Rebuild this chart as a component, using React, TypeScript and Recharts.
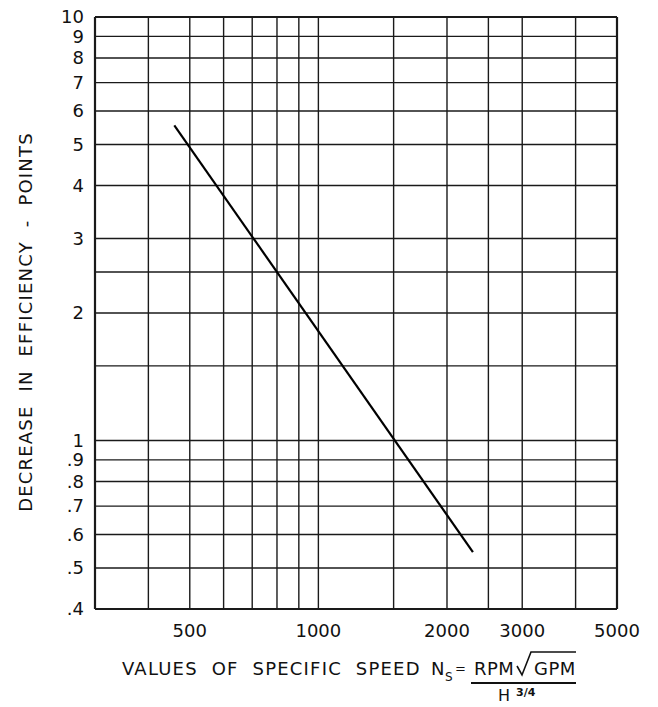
import { LineChart, Line, XAxis, YAxis, ReferenceLine } from 'recharts';

// specific speed (x) vs decrease in efficiency (y)
const specificSpeed = [460, 2300];
const efficiencyDrop = [5.55, 0.545];

const xGridValues = [300, 400, 500, 600, 700, 800, 900, 1000, 1500, 2000, 2500, 3000, 4000, 5000];
const xTickValues = [500, 1000, 2000, 3000, 5000];
const yTickValues = [0.4, 0.5, 0.6, 0.7, 0.8, 0.9, 1, 2, 3, 4, 5, 6, 7, 8, 9, 10];
const yTickLabels = ['.4', '.5', '.6', '.7', '.8', '.9', '1', '2', '3', '4', '5', '6', '7', '8', '9', '10'];
const yGridValues = [...yTickValues, 1.5, 2.5];

const data = specificSpeed.map((ns, i) => ({ ns, drop: efficiencyDrop[i] }));

const FONT = '"DejaVu Sans", sans-serif';
const tickStyle = { fill: '#111', fontFamily: FONT, fontSize: 18 };
const titleStyle = { fontFamily: FONT, fontSize: 18, letterSpacing: 1.2, wordSpacing: 7 } as const;

export default function App() {
  return (
    <div style={{ position: 'absolute', left: 0, top: 0, width: 658, height: 707, background: '#fff' }}>
      <LineChart width={658} height={707} data={data} margin={{ top: 17, right: 41, bottom: 0, left: 0 }}>
        <XAxis
          dataKey="ns"
          type="number"
          scale="log"
          domain={[300, 5000]}
          allowDataOverflow
          ticks={xTickValues}
          interval={0}
          height={98}
          axisLine={false}
          tickLine={false}
          tickSize={0}
          tickMargin={15}
          tick={tickStyle}
        />
        <YAxis
          type="number"
          scale="log"
          domain={[0.4, 10]}
          allowDataOverflow
          ticks={yTickValues}
          interval={0}
          width={95}
          axisLine={false}
          tickLine={false}
          tickSize={0}
          tickMargin={11}
          tick={tickStyle}
          tickFormatter={(v: number) => yTickLabels[yTickValues.indexOf(v)] ?? ''}
        />
        {xGridValues.map((v, i) => (
          <ReferenceLine
            key={'x' + v}
            x={v}
            stroke="#1a1a1a"
            strokeWidth={i === 0 || i === xGridValues.length - 1 ? 2.2 : 1.4}
          />
        ))}
        {yGridValues.map((v) => (
          <ReferenceLine
            key={'y' + v}
            y={v}
            stroke="#1a1a1a"
            strokeWidth={v === 0.4 || v === 10 ? 2.2 : 1.4}
          />
        ))}
        <Line
          dataKey="drop"
          type="linear"
          stroke="#000"
          strokeWidth={2.2}
          dot={false}
          isAnimationActive={false}
        />
      </LineChart>
      <svg
        width={658}
        height={707}
        style={{ position: 'absolute', left: 0, top: 0, pointerEvents: 'none' }}
      >
        <text
          transform="translate(32,322) rotate(-90)"
          textAnchor="middle"
          fill="#111"
          style={titleStyle}
        >
          DECREASE IN EFFICIENCY - POINTS
        </text>
        <text x={122} y={675} fill="#111" style={titleStyle}>
          VALUES OF SPECIFIC SPEED
        </text>
        <text x={431} y={675} fill="#111" fontFamily={FONT} fontSize={18}>N</text>
        <text x={445} y={681} fill="#111" fontFamily={FONT} fontSize={12}>S</text>
        <text x={455} y={673} fill="#111" fontFamily={FONT} fontSize={13}>=</text>
        <text x={474} y={675} fill="#111" fontFamily={FONT} fontSize={18} letterSpacing={0.5}>RPM</text>
        <path d="M517,666 L522,675 L531,652 L576,652" fill="none" stroke="#111" strokeWidth={1.6} />
        <text x={534} y={675} fill="#111" fontFamily={FONT} fontSize={18} letterSpacing={0.5}>GPM</text>
        <line x1={471} y1={683} x2={576} y2={683} stroke="#111" strokeWidth={2} />
        <text x={498} y={701} fill="#111" fontFamily={FONT} fontSize={16}>H</text>
        <text x={516} y={696} fill="#111" fontFamily={FONT} fontSize={11} fontWeight="bold">3/4</text>
      </svg>
    </div>
  );
}
